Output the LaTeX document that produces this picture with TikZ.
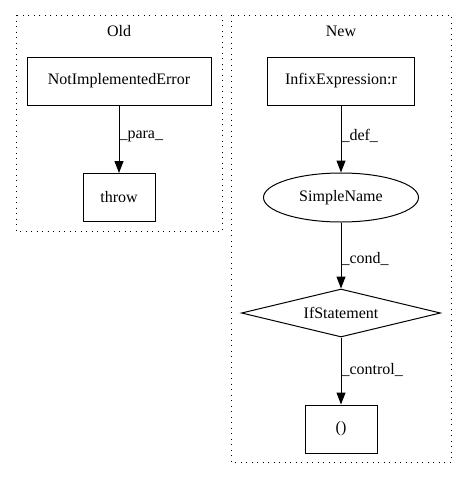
\documentclass[tikz,border=0pt]{standalone}
\usepackage{fontspec}
\setmainfont{Liberation Serif}
\usetikzlibrary{arrows.meta,shapes.geometric}

\begin{document}
\begin{tikzpicture}[x=1pt,y=-1pt,>={Triangle[length=12pt,width=9pt]},font=\fontsize{16pt}{18pt}\selectfont,line width=1pt,
  box/.style={draw,minimum height=48pt,inner sep=0pt},
  cluster/.style={draw,line width=1pt,dash pattern=on 1pt off 4.5pt}]
\useasboundingbox(0,0)rectangle(467,480);
\draw[cluster](16,15)rectangle(222,231);
\draw[cluster](231,15)rectangle(451,462);
\node(old) at (119,31){Old};
\node(new) at (341,31){New};
% old
\node[box,minimum width=184pt](err) at (119,81){NotImplementedError};
\node[box,minimum width=72pt](throw) at (119,197.5){throw};
% new
\node[box,minimum width=147pt](infix) at (341,81){InfixExpression:r};
\node[draw,ellipse,minimum width=155pt,minimum height=49pt,inner sep=0pt](simple) at (341,197.5){SimpleName};
\node[draw,diamond,aspect=4.15,minimum width=199pt,minimum height=48pt,inner sep=0pt](if) at (341,313){IfStatement};
\node[box,minimum width=72pt](call) at (341,429){()};
\draw[->](err)--node[right,inner sep=0pt,yshift=3pt]{\_para\_}(throw);
\draw[->](infix)--node[right,inner sep=0pt,yshift=3pt]{\_def\_}(simple);
\draw[->](simple)--node[right,inner sep=0pt,yshift=-3pt]{\_cond\_}(if);
\draw[->](if)--node[right,inner sep=0pt,yshift=1pt]{\_control\_}(call);
\end{tikzpicture}
\end{document}
